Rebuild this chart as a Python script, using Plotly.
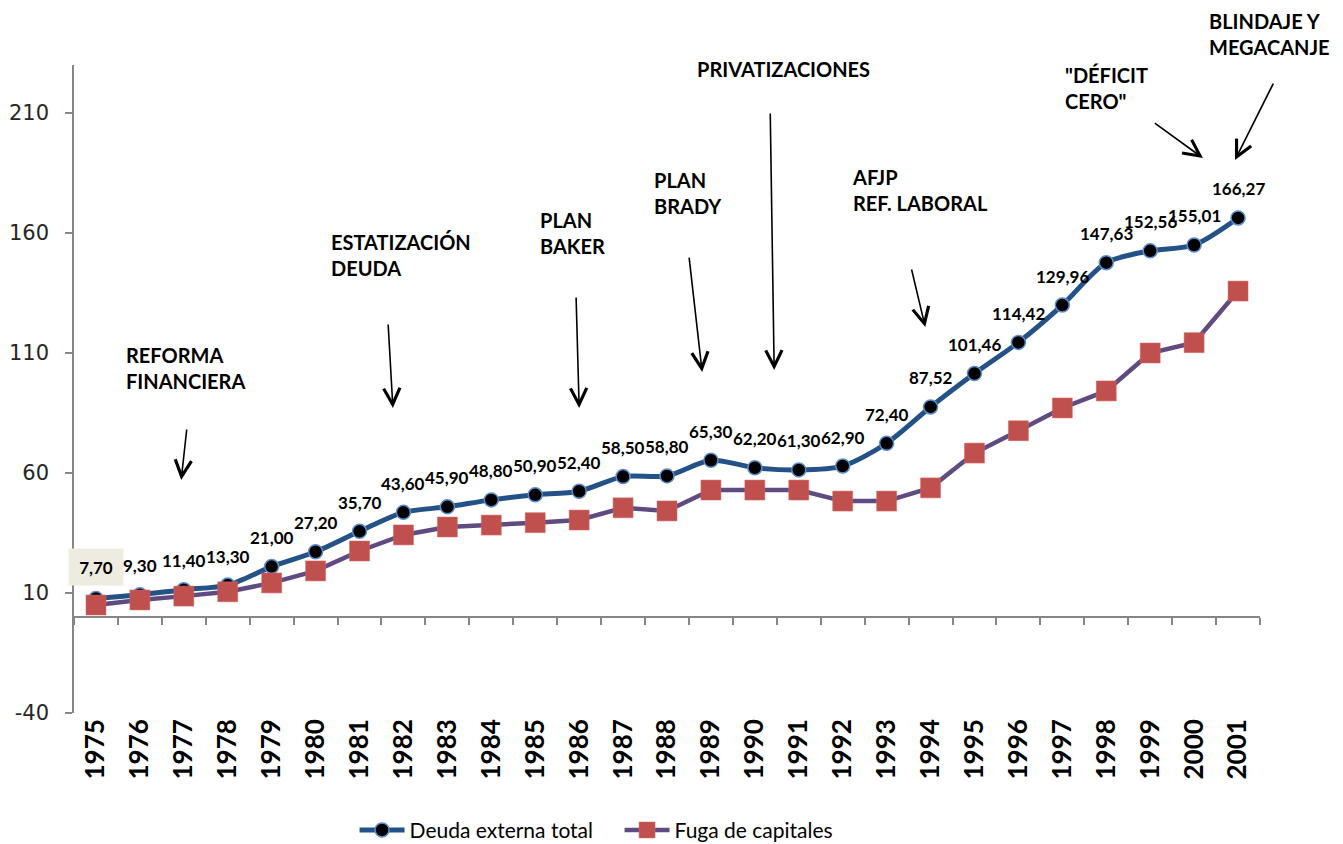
import plotly.graph_objects as go

years = list(range(1975, 2002))
deuda = [7.70, 9.30, 11.40, 13.30, 21.00, 27.20, 35.70, 43.60, 45.90, 48.80, 50.90, 52.40,
         58.50, 58.80, 65.30, 62.20, 61.30, 62.90, 72.40, 87.52, 101.46, 114.42, 129.96,
         147.63, 152.56, 155.01, 166.27]
fuga = [5.0, 7.1, 8.7, 10.5, 14.2, 19.2, 27.5, 34.2, 37.5, 38.3, 39.3, 40.4,
        45.5, 44.2, 52.9, 52.9, 52.9, 48.3, 48.3, 53.8, 68.3, 77.6, 87.1,
        94.2, 110.0, 114.3, 135.8]
y_ticks = [-40, 10, 60, 110, 160, 210]
y_ticktext = ["-40", "10", "60", "110", "160", "210"]
Y_MIN, Y_MAX = -40, 230

# event annotations: text, text anchor (x, y), arrow tail (x, y), arrow head (x, y)
event_text = ["REFORMA<br>FINANCIERA", "ESTATIZACIÓN<br>DEUDA", "PLAN<br>BAKER", "PLAN<br>BRADY",
              "PRIVATIZACIONES", "AFJP<br>REF. LABORAL", "\"DÉFICIT<br>CERO\"", "BLINDAJE Y<br>MEGACANJE"]
event_tx = [1975.64, 1980.31, 1985.06, 1987.66, 1988.64, 1992.17, 1997.02, 2000.30]
event_ty = [115.0, 162.0, 171.3, 188.0, 234.0, 189.0, 231.5, 254.0]
arrow_tail_x = [1977.07, 1981.65, 1985.93, 1988.50, 1990.35, 1993.56, 1999.07, 2001.82]
arrow_tail_y = [78.75, 122.5, 133.75, 150.4, 210.4, 145.4, 206.25, 222.9]
arrow_head_x = [1976.94, 1981.76, 1986.00, 1988.80, 1990.44, 1993.88, 2000.20, 2000.93]
arrow_head_y = [57.1, 87.1, 87.1, 102.1, 102.9, 120.8, 191.25, 190.4]

BLUE = "#245287"
PURPLE = "#5F4B7F"
RED = "#C0504D"
AXIS = "#868686"

fig = go.Figure()
fig.add_trace(go.Scatter(
    x=years, y=deuda, name="Deuda externa total", mode="lines+markers",
    line=dict(color=BLUE, width=5, shape="spline", smoothing=0.8),
    marker=dict(symbol="circle", size=14, color="black", line=dict(color="#5B8FD0", width=1.5)),
))
fig.add_trace(go.Scatter(
    x=years, y=fuga, name="Fuga de capitales", mode="lines+markers",
    line=dict(color=PURPLE, width=4.5),
    marker=dict(symbol="square", size=20, color=RED, line=dict(color="#D66A66", width=0.5)),
))
# helper trace for the bottom label axis
fig.add_trace(go.Scatter(x=years, y=deuda, xaxis="x2", mode="lines", opacity=0,
                         showlegend=False, hoverinfo="skip"))

annotations = []
for i, (yr, v) in enumerate(zip(years, deuda)):
    txt = f"{v:.2f}".replace(".", ",")
    a = dict(x=yr, y=v, text=txt, showarrow=False, yshift=29, xanchor="center", yanchor="middle",
             font=dict(family="Lato", size=17, color="black", weight="bold"))
    if i == 0:
        a.update(bgcolor="#EEECE1", width=52, height=34, yshift=32)
    annotations.append(a)

for t, tx, ty in zip(event_text, event_tx, event_ty):
    annotations.append(dict(x=tx, y=(ty - Y_MIN) / (Y_MAX - Y_MIN), yref="paper", text=t,
                            showarrow=False, xanchor="left", yanchor="top", align="left",
                            font=dict(family="Lato", size=20, color="black", weight="bold")))

for hx, hy, tx, ty in zip(arrow_head_x, arrow_head_y, arrow_tail_x, arrow_tail_y):
    annotations.append(dict(x=hx, y=hy, ax=tx, ay=ty, axref="x", ayref="y", text="",
                            showarrow=True, arrowhead=5, arrowsize=2, arrowwidth=1.6,
                            arrowcolor="black", standoff=0))

fig.update_layout(
    width=1343, height=844,
    margin=dict(l=66, r=91, t=57, b=139, autoexpand=False),
    paper_bgcolor="white", plot_bgcolor="white",
    showlegend=True,
    legend=dict(orientation="h", x=0.460, xanchor="center", y=-0.181, yanchor="middle",
                font=dict(family="Lato", size=21, color="black"), itemwidth=45,
                entrywidth=205, tracegroupgap=0, bgcolor="rgba(0,0,0,0)"),
    xaxis=dict(range=[1974.5, 2001.5], anchor="free", position=(0 - Y_MIN) / (Y_MAX - Y_MIN),
               tickvals=[y + 0.5 for y in range(1974, 2002)], showticklabels=False,
               ticks="outside", ticklen=7, tickcolor=AXIS, tickwidth=1.5, automargin=False,
               showline=True, linecolor=AXIS, linewidth=1.5, showgrid=False, zeroline=False),
    xaxis2=dict(matches="x", overlaying="x", anchor="y", side="bottom", automargin=False,
                tickvals=years, ticktext=[str(y) for y in years], tickangle=-90,
                tickfont=dict(family="Lato", size=26, color="black", weight="bold"),
                showline=False, ticks="", showgrid=False, zeroline=False),
    yaxis=dict(range=[Y_MIN, Y_MAX], tickvals=y_ticks, ticktext=y_ticktext, showgrid=False,
               zeroline=False, automargin=False,
               showline=True, linecolor=AXIS, linewidth=1.5, ticks="outside", ticklen=7,
               tickcolor=AXIS, tickwidth=1.5, ticklabelstandoff=12,
               tickfont=dict(family="DejaVu Sans", size=21, color="#262626")),
    annotations=annotations,
)

fig.write_html("out.html")
